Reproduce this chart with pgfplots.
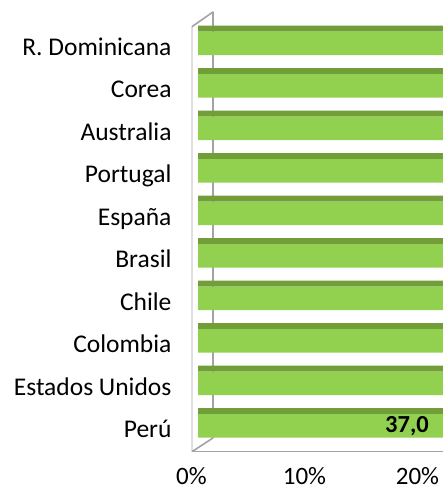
\documentclass[border=0pt]{standalone}
\usepackage{pgfplots}
\pgfplotsset{compat=1.18}
\usepackage{fontspec}
\setmainfont{Carlito}
\definecolor{barfront}{RGB}{146,208,80}
\definecolor{bartop}{RGB}{114,158,58}
\definecolor{framegray}{RGB}{163,163,163}
\begin{document}
\begin{tikzpicture}
\useasboundingbox (0,0) rectangle (443pt,492pt);
\begin{axis}[
  at={(191.5pt,40pt)}, anchor=south west, scale only axis,
  width=251.5pt, height=440pt,
  xmin=0, xmax=22.26, ymin=-0.612, ymax=9.741,
  axis line style={draw=none}, major tick length=0pt,
  xtick={0,10,20}, xticklabels={0\%,10\%,20\%},
  ytick={0,1,2,3,4,5,6,7,8,9},
  yticklabels={Perú,Estados Unidos,Colombia,Chile,Brasil,España,Portugal,Australia,Corea,R. Dominicana},
  xticklabel style={anchor=base, yshift=-33pt, font=\fontsize{25}{29}\selectfont},
  yticklabel style={anchor=base east, yshift=-12pt, xshift=-16.5pt, font=\fontsize{25.5}{30}\selectfont},
  clip=true,
]
\draw[framegray, line width=1.6pt, line join=round]
  (axis cs:0,-0.612) -- (axis cs:0,9.388) -- (axis cs:1.90,9.741)
  -- (axis cs:1.90,-0.282) -- cycle;
\draw[framegray, line width=1.6pt] (axis cs:0,-0.612) -- (axis cs:22.5,-0.612);
% top faces
\addplot[xbar, bar width=0.141, bar shift=0.347, fill=bartop, draw=none, xshift=6.5pt]
  coordinates {(37.0,0) (33,1) (31,2) (30,3) (29,4) (28,5) (27,6) (26,7) (25,8) (24,9)};
% front faces
\addplot[xbar, bar width=0.553, bar shift=0, fill=barfront, draw=none, xshift=6.5pt]
  coordinates {(37.0,0) (33,1) (31,2) (30,3) (29,4) (28,5) (27,6) (26,7) (25,8) (24,9)};
% data label (centred in the Perú bar)
\addplot[draw=none, mark=none, xshift=6.5pt,
  nodes near coords={\textbf{37,0}},
  every node near coord/.style={anchor=center, font=\fontsize{24.5}{29}\selectfont}]
  coordinates {(18.5,0)};
\end{axis}
\end{tikzpicture}
\end{document}
